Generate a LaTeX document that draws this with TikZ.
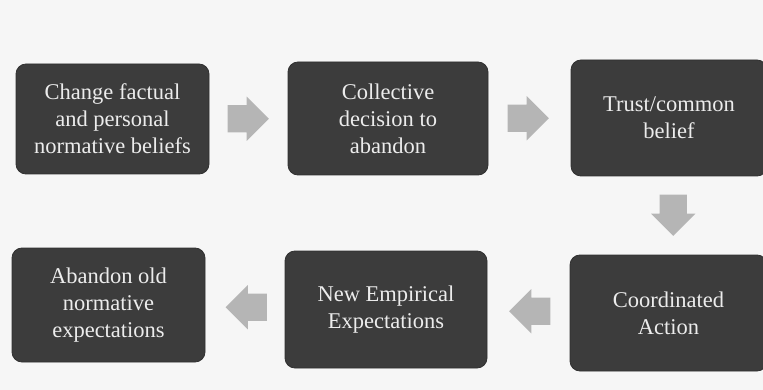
\documentclass[tikz,border=0pt]{standalone}
\usepackage{fontspec}
\setmainfont{Liberation Serif}
\usetikzlibrary{shapes.arrows,calc}
\definecolor{bg}{HTML}{F6F6F6}
\definecolor{boxfill}{HTML}{3C3C3C}
\definecolor{boxtext}{HTML}{ECECEC}
\definecolor{arrowfill}{HTML}{B5B5B5}
\begin{document}
\begin{tikzpicture}[x=1pt,y=-1pt,
  stepbox/.style={draw=boxfill!80!black, line width=0.8pt, fill=boxfill, rounded corners=10pt,
    text=boxtext, align=center, font=\fontsize{22.5}{27}\selectfont, inner sep=0pt},
  blockarrow/.style={single arrow, fill=arrowfill, draw=none, inner sep=13.5pt,
    minimum height=40pt, minimum width=44pt, single arrow head extend=8.5pt, anchor=tail}]
\fill[bg] (0,0) rectangle (763,390);
\useasboundingbox (0,0) rectangle (763,390);
\node[stepbox, minimum width=193pt, minimum height=110pt] (b1) at (112.5,119)
  {Change factual\\and personal\\normative beliefs};
\node[stepbox, minimum width=200pt, minimum height=113pt] (b2) at (388,118.5)
  {Collective\\decision to\\abandon};
\node[stepbox, minimum width=196pt, minimum height=116pt] (b3) at (669,118)
  {Trust/common\\belief};
\node[stepbox, minimum width=197pt, minimum height=116pt] (b4) at (668.5,313)
  {Coordinated\\Action};
\node[stepbox, minimum width=202pt, minimum height=117pt] (b5) at (386,309.5)
  {New Empirical\\Expectations};
\node[stepbox, minimum width=193pt, minimum height=114pt] (b6) at (108.5,305)
  {Abandon old\\normative\\expectations};
\node[blockarrow] (a1) at ($(b1.east)!0.5!(b2.west)+(-21,0)$) {};
\node[blockarrow] (a2) at ($(b2.east)!0.5!(b3.west)+(-22,0)$) {};
\node[blockarrow, shape border rotate=270] (a3) at ($(b3.south)!0.5!(b4.north)+(4.5,-21)$) {};
\node[blockarrow, shape border rotate=180] (a4) at ($(b4.west)!0.5!(b5.east)+(22,0)$) {};
\node[blockarrow, shape border rotate=180] (a5) at ($(b5.west)!0.5!(b6.east)+(22,0)$) {};
\end{tikzpicture}
\end{document}
